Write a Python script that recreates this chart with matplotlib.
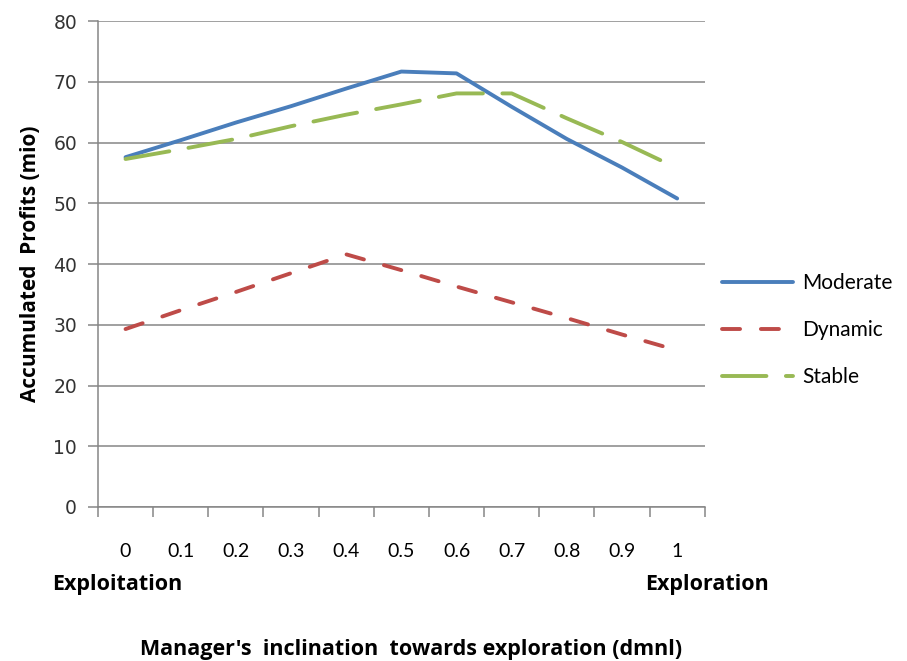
import numpy as np
import matplotlib.pyplot as plt

plt.rcParams['lines.scale_dashes'] = False

inclination = ['0', '0.1', '0.2', '0.3', '0.4', '0.5', '0.6', '0.7', '0.8', '0.9', '1']
moderate = [57.6, 60.4, 63.3, 66.0, 68.9, 71.7, 71.4, 65.9, 60.6, 55.9, 50.8]
dynamic = [29.3, 32.4, 35.4, 38.5, 41.6, 39.0, 36.3, 33.7, 31.1, 28.4, 25.8]
stable = [57.3, 58.9, 60.6, 62.7, 64.6, 66.3, 68.1, 68.1, 64.0, 60.1, 55.8]

grey = '#868686'
body_font = 'Lato'
title_font = 'Open Sans'

fig = plt.figure(figsize=(9.07, 6.61), dpi=100)
ax = fig.add_axes([0.108, 0.233, 0.669, 0.735])

x = np.arange(len(inclination))
ax.plot(x, moderate, color='#4A7EBB', lw=2.8, solid_capstyle='round', label='Moderate')
ax.plot(x, dynamic, color='#BE4B48', lw=2.8, dash_capstyle='round',
        linestyle=(0, (13, 15)), label='Dynamic')
ax.plot(x, stable, color='#98B954', lw=2.8, dash_capstyle='round',
        linestyle=(0, (32, 14)), label='Stable')

ax.set_xlim(-0.5, len(inclination) - 0.5)
ax.set_ylim(0, 80)
ax.set_yticks(np.arange(0, 81, 10))
ax.yaxis.grid(True, color=grey, lw=1.1)
ax.set_axisbelow(True)

# tick marks sit between categories, labels at the category centres
ax.set_xticks(np.arange(-0.5, len(inclination), 1.0))
ax.set_xticklabels([])
ax.set_xticks(x, minor=True)
ax.set_xticklabels(inclination, minor=True, fontsize=14, family=body_font)
ax.tick_params(axis='x', which='major', direction='out', length=7, color=grey, width=1.1)
ax.tick_params(axis='x', which='minor', length=0, pad=26)
ax.tick_params(axis='y', direction='out', length=7, color=grey, width=1.1,
               labelsize=13.5, labelcolor='#333333', pad=8,
               labelfontfamily='DejaVu Sans')

for side in ['top', 'right']:
    ax.spines[side].set_visible(False)
for side in ['left', 'bottom']:
    ax.spines[side].set_color(grey)
    ax.spines[side].set_linewidth(1.1)

ax.set_ylabel('Accumulated  Profits (mio)', fontsize=15, fontweight='bold',
              family=title_font, labelpad=9)

fig.text(0.057, 0.115, 'Exploitation', fontsize=15.5, fontweight='bold', family=title_font,
         ha='left', va='center')
fig.text(0.711, 0.115, 'Exploration', fontsize=15.5, fontweight='bold', family=title_font,
         ha='left', va='center')
fig.text(0.453, 0.017, "Manager's  inclination  towards exploration (dmnl)", fontsize=15.5,
         fontweight='bold', family=title_font, ha='center', va='center')

leg = fig.legend(loc='upper left', bbox_to_anchor=(0.775, 0.615), frameon=False,
                 handlelength=3.4, handletextpad=0.45, labelspacing=1.3,
                 prop={'family': body_font, 'size': 15})

plt.savefig('out.png', dpi=100)
